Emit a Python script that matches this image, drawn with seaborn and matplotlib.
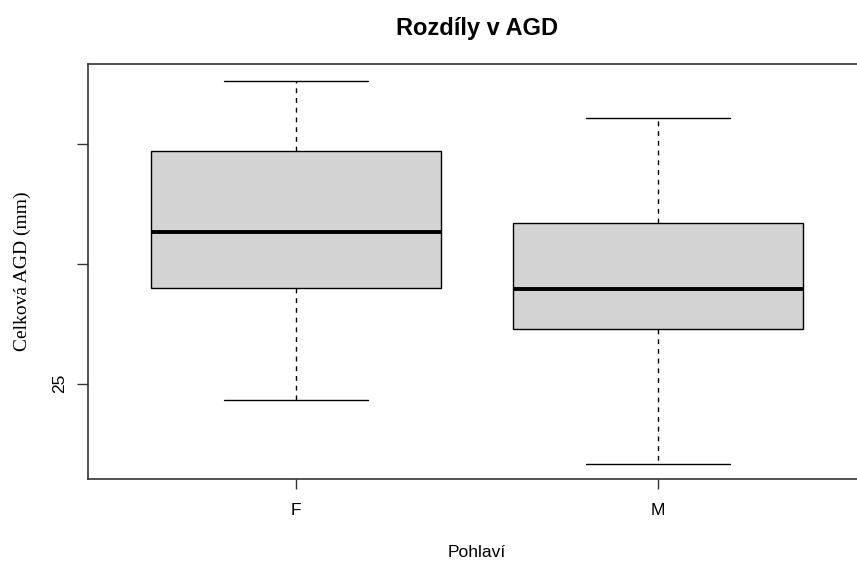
import numpy as np
import pandas as pd
import seaborn as sns
import matplotlib.pyplot as plt

# five-number summary per group (min, Q1, median, Q3, max)
groups = ['F', 'M']
f_values = [24.33, 28.97, 31.32, 34.71, 37.64]
m_values = [21.65, 27.26, 28.93, 31.69, 36.09]

ytick_values = [25, 30, 35]
ytick_labels = ['25', '', '']

title = 'Rozdíly v AGD'
xlabel = 'Pohlaví'
ylabel = 'Celková AGD (mm)'

df = pd.DataFrame({
    'Pohlavi': ['F'] * len(f_values) + ['M'] * len(m_values),
    'AGD': f_values + m_values,
})

sns.set_style('white')
plt.rcParams['font.family'] = ['Liberation Sans', 'DejaVu Sans']
plt.rcParams['text.color'] = 'black'
plt.rcParams['axes.labelcolor'] = 'black'
plt.rcParams['xtick.color'] = 'black'
plt.rcParams['ytick.color'] = 'black'

fig = plt.figure(figsize=(8.57, 5.61), dpi=100)
ax = fig.add_axes([88 / 857, 82 / 561, 778 / 857, 415 / 561])

sns.boxplot(data=df, x='Pohlavi', y='AGD', order=groups, ax=ax,
            color='lightgray', saturation=1, linecolor='black', linewidth=1,
            width=0.8, whis=(0, 100),
            whiskerprops={'linestyle': (0, (3.5, 3.5))},
            medianprops={'linewidth': 2.8})

# R-style extents: 4% padding of data range on y
lo = min(f_values + m_values)
hi = max(f_values + m_values)
pad = 0.04 * (hi - lo)
ax.set_ylim(lo - pad, hi + pad + 0.07)
ax.set_xlim(-0.575, 1.575)

ax.set_yticks(ytick_values)
ax.set_yticklabels(ytick_labels, rotation=90, va='center', fontsize=12.5)
ax.tick_params(axis='y', length=8, width=1, color='#333333', pad=7, left=True)
ax.tick_params(axis='x', length=7.5, width=1, color='#333333', pad=10,
               labelsize=12.5, bottom=True)

for s in ax.spines.values():
    s.set_color('#333333')
    s.set_linewidth(1.2)

ax.set_title(title, fontsize=17, fontweight='bold', pad=21, color='black')
ax.set_xlabel(xlabel, fontsize=12.5)
ax.xaxis.set_label_coords(0.5, -66 / 415)
ax.set_ylabel(ylabel, fontsize=14, family=['Liberation Serif', 'DejaVu Serif'])
ax.yaxis.label.set_va('center')
ax.yaxis.set_label_coords(-66 / 778, 0.5)

fig.savefig('out.png', dpi=100)
